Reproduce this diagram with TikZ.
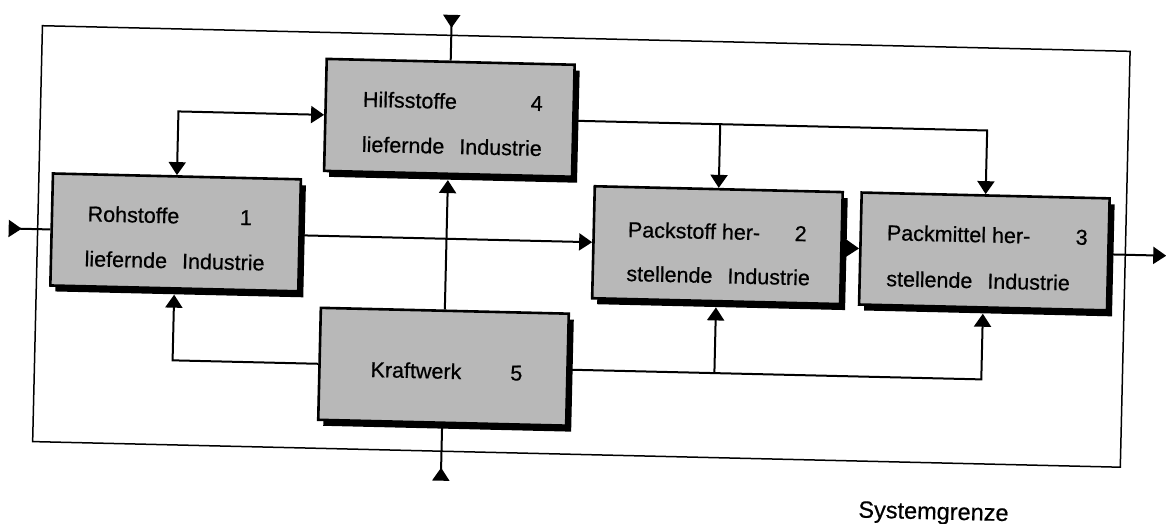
\documentclass[tikz,border=0pt]{standalone}
\usepackage{fontspec}
\setmainfont{Liberation Sans}[FakeBold=0.6]
\newfontfamily\scanfont{Liberation Sans}[FakeBold=0.6]
\usetikzlibrary{arrows.meta,shadows}
\newcommand\wgap{\hspace{0.7em}}
\begin{document}
\begin{tikzpicture}[x=1pt,y=1pt,
  box/.style={draw=black, line width=2.6pt, fill=black!28, minimum width=248pt, minimum height=112pt, inner sep=0pt,
    drop shadow={shadow xshift=5pt, shadow yshift=-6pt, fill=black, opacity=1}},
  conn/.style={line width=2pt, -{Triangle[length=13pt,width=17pt]}},
  up/.style={conn, shorten >=5pt},
  both/.style={line width=2pt, {Triangle[length=13pt,width=17pt]}-{Triangle[length=13pt,width=17pt]}},
  feed/.style={line width=2pt, {Triangle[reversed,length=13pt,width=17pt]}-},
  lbl/.style={font=\scanfont\fontsize{21.5}{24}\selectfont, inner sep=0pt, anchor=base west},
  num/.style={font=\scanfont\fontsize{21.5}{24}\selectfont, inner sep=0pt, anchor=base},
  bound/.style={draw=black, line width=1.5pt, minimum width=1088pt, minimum height=416pt, inner sep=0pt}]
\useasboundingbox (0,0) rectangle (1166,-524);
\begin{scope}[rotate around={-1.35:(583,-262)}, transform shape]
  % system boundary
  \node[bound] (sys) at (581,-246.5) {};
  % boxes
  \node[box] (b1) at (175,-242) {};
  \node[box] (b4) at (446,-121) {};
  \node[box] (b2) at (717,-242) {};
  \node[box] (b3) at (984,-242) {};
  \node[box] (b5) at (446,-370) {};
  % texts
  \node[lbl] (t1a) at (86.5,-233) {Rohstoffe};
  \node[num] (n1) at (245,-233) {1};
  \node[lbl] (t1b) at (84.5,-278) {liefernde\wgap Industrie};
  \node[lbl] (t4a) at (359,-112) {Hilfsstoffe};
  \node[num] (n4) at (533,-112) {4};
  \node[lbl] (t4b) at (359,-157) {liefernde\wgap Industrie};
  \node[lbl] (t2a) at (627,-236) {Packstoff her-};
  \node[num] (n2) at (800,-236) {2};
  \node[lbl] (t2b) at (626.5,-280) {stellende\wgap Industrie};
  \node[lbl] (t3a) at (886,-233) {Packmittel her-};
  \node[num] (n3) at (1081,-233) {3};
  \node[lbl] (t3b) at (886.5,-279) {stellende\wgap Industrie};
  \node[lbl] (t5a) at (373,-382) {Kraftwerk};
  \node[num] (n5) at (519,-382) {5};
  \node[font=\fontsize{23.5}{26}\selectfont, inner sep=0pt, anchor=base west] (sg) at (864,-511) {Systemgrenze};
  % coordinates
  \coordinate (inL) at (8,-242);
  \coordinate (inT) at (446,-18);
  \coordinate (inB) at (446,-484);
  \coordinate (out) at (1166,-242);
  \coordinate (c14) at (175,-121);
  \coordinate (c43) at (984,-121);
  \coordinate (j42) at (717,-121);
  \coordinate (c51) at (175,-370);
  \coordinate (c53) at (984,-370);
  \coordinate (j52) at (717,-370);
  % connectors
  \draw[feed] (inL) -- (b1.west);
  \draw[feed] (inT) -- (b4.north);
  \draw[feed] (inB) -- (b5.south);
  \draw[conn] (b1.east) -- (b2.west);
  \draw[conn] (b2.east) -- (b3.west);
  \draw[conn] (b3.east) -- (out);
  \draw[both] (b1.north) -- (c14) -- (b4.west);
  \draw[conn] (b4.east) -- (c43) -- (b3.north);
  \draw[conn] (j42) -- (b2.north);
  \draw[up] (b5.west) -- (c51) -- (b1.south);
  \draw[up] (b5.north) -- (b4.south);
  \draw[up] (b5.east) -- (c53) -- (b3.south);
  \draw[up] (j52) -- (b2.south);
\end{scope}
\end{tikzpicture}
\end{document}
